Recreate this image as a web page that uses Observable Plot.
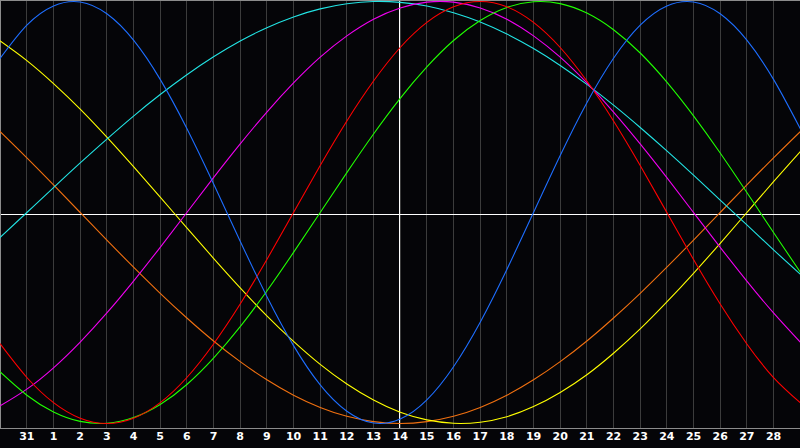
<!DOCTYPE html>
<html>
<head>
<meta charset="utf-8">
<script src="https://cdn.jsdelivr.net/npm/d3@7"></script>
<script src="https://cdn.jsdelivr.net/npm/@observablehq/plot@0.6"></script>
<style>
  html, body { margin: 0; padding: 0; background: #050508; }
  #chart { width: 800px; height: 448px; overflow: hidden; }
</style>
</head>
<body>
<div id="chart"></div>
<script>
// Day index along the chart (0 = left edge, 30 = right edge)
const days = [0,1,2,3,4,5,6,7,8,9,10,11,12,13,14,15,16,17,18,19,20,21,22,23,24,25,26,27,28,29,30];
// Gridline days and their date labels
const tickDays = [1,2,3,4,5,6,7,8,9,10,11,12,13,14,15,16,17,18,19,20,21,22,23,24,25,26,27,28,29];
const tickLabels = ["31","1","2","3","4","5","6","7","8","9","10","11","12","13","14","15","16","17","18","19","20","21","22","23","24","25","26","27","28"];
const todayDay = 15;

// Cycle values (-1 .. 1) per day
const physical     = [0.731,0.888,0.979,0.998,0.942,0.817,0.631,0.398,0.136,-0.136,-0.398,-0.631,-0.817,-0.942,-0.998,-0.979,-0.888,-0.731,-0.520,-0.270,0.000,0.270,0.520,0.731,0.888,0.979,0.998,0.942,0.817,0.631,0.398];
const emotional    = [-0.623,-0.782,-0.901,-0.975,-1.000,-0.975,-0.901,-0.782,-0.623,-0.434,-0.223,0.000,0.223,0.434,0.623,0.782,0.901,0.975,1.000,0.975,0.901,0.782,0.623,0.434,0.223,0.000,-0.223,-0.434,-0.623,-0.782,-0.901];
const intellectual = [-0.756,-0.866,-0.945,-0.990,-0.999,-0.972,-0.910,-0.815,-0.690,-0.541,-0.372,-0.189,0.000,0.189,0.372,0.541,0.690,0.815,0.910,0.972,0.999,0.990,0.945,0.866,0.756,0.618,0.458,0.282,0.095,-0.095,-0.282];
const intuitive    = [-0.916,-0.837,-0.736,-0.614,-0.476,-0.325,-0.165,0.000,0.165,0.325,0.476,0.614,0.736,0.837,0.916,0.969,0.997,0.997,0.969,0.916,0.837,0.736,0.614,0.476,0.325,0.165,0.000,-0.165,-0.325,-0.476,-0.614];
const aesthetic    = [0.813,0.720,0.611,0.490,0.357,0.217,0.073,-0.073,-0.217,-0.357,-0.490,-0.611,-0.720,-0.813,-0.889,-0.947,-0.983,-0.999,-0.994,-0.968,-0.920,-0.853,-0.769,-0.667,-0.552,-0.424,-0.288,-0.146,0.000,0.146,0.288];
const awareness    = [0.383,0.259,0.131,0.000,-0.131,-0.259,-0.383,-0.500,-0.609,-0.707,-0.793,-0.866,-0.924,-0.966,-0.991,-1.000,-0.991,-0.966,-0.924,-0.866,-0.793,-0.707,-0.609,-0.500,-0.383,-0.259,-0.131,0.000,0.131,0.259,0.383];
const spiritual    = [-0.118,0.000,0.118,0.235,0.348,0.457,0.559,0.653,0.738,0.813,0.876,0.927,0.965,0.989,1.000,0.996,0.979,0.947,0.903,0.846,0.777,0.697,0.607,0.509,0.403,0.292,0.177,0.059,-0.059,-0.177,-0.292];

const seriesNames  = ["awareness","aesthetic","spiritual","intuitive","intellectual","emotional","physical"];
const seriesValues = [awareness, aesthetic, spiritual, intuitive, intellectual, emotional, physical];
const seriesColors = ["#f07010","#ffff00","#22e4e4","#f000f0","#20ff00","#ff0000","#1e6eff"];

const rows = seriesNames.flatMap((name, s) =>
  days.map((d, i) => ({series: name, day: d, value: seriesValues[s][i]}))
);

const chart = Plot.plot({
  width: 800,
  height: 448,
  marginTop: 0,
  marginBottom: 20,
  marginLeft: 0,
  marginRight: 0,
  style: {background: "#050508", color: "white", fontFamily: "DejaVu Sans"},
  x: {domain: [0, 30], range: [-0.3, 799.7], axis: null},
  y: {domain: [-1, 1], range: [423, 1], axis: null},
  color: {domain: seriesNames, range: seriesColors},
  marks: [
    Plot.ruleX(tickDays, {stroke: "#3c3c3c", strokeWidth: 1, shapeRendering: "crispEdges"}),
    Plot.ruleY([0], {stroke: "white", strokeWidth: 1, dy: 1.5, shapeRendering: "crispEdges"}),
    Plot.ruleX([todayDay], {stroke: "white", strokeWidth: 1, dx: -0.7, shapeRendering: "crispEdges"}),
    Plot.frame({stroke: "#8c8c8c", strokeWidth: 1, shapeRendering: "crispEdges"}),
    Plot.line(rows, {x: "day", y: "value", z: "series", stroke: "series", strokeWidth: 1.1, curve: "natural"}),
    Plot.text(tickDays, {
      x: tickDays,
      text: tickLabels,
      frameAnchor: "bottom",
      dy: 11,
      fill: "white",
      fontSize: 11,
      fontWeight: "bold",
      textAnchor: "middle"
    })
  ]
});
document.getElementById("chart").appendChild(chart);
</script>
</body>
</html>
